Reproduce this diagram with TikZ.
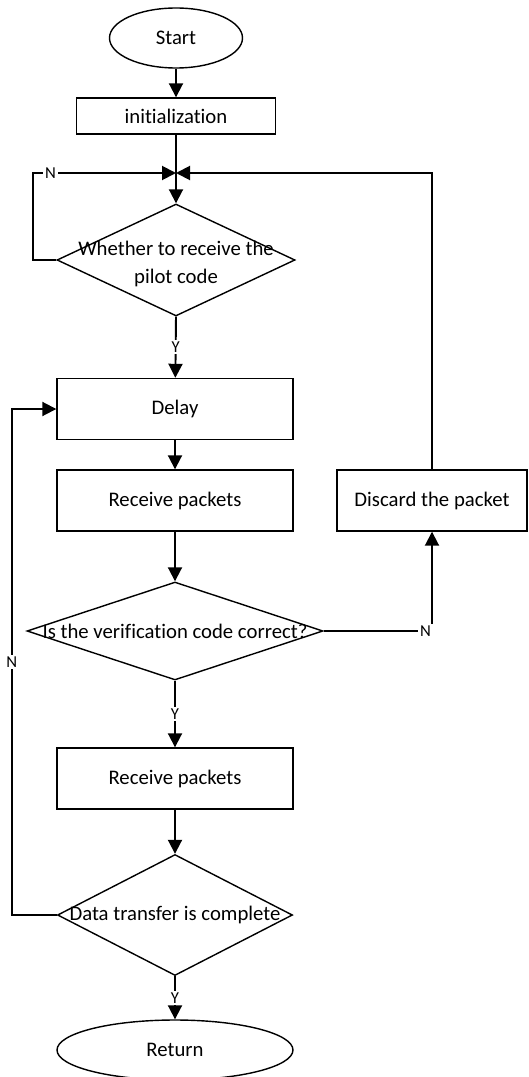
\documentclass[tikz,border=0pt]{standalone}
\usepackage{fontspec}
\setmainfont{Carlito}[Ligatures=CommonOff]
\usepackage{tikz}
\usetikzlibrary{positioning, shapes.geometric, calc, arrows.meta}
\definecolor{fcLine}{RGB}{0, 0, 0}
\tikzset{
    base/.style={
        font=\fontsize{11.8}{15.4}\selectfont,
        align=center,
        text=fcLine
    },
    terminal/.style={
        base,
        ellipse,
        draw=fcLine,
        line width=0.8pt,
        fill=white,
        inner sep=0pt
    },
    process/.style={
        base,
        rectangle,
        draw=fcLine,
        line width=0.8pt,
        fill=white,
        minimum width=4.72cm,
        minimum height=1.22cm
    },
    decision/.style={
        base,
        diamond,
        draw=fcLine,
        line width=0.8pt,
        fill=white,
        inner sep=0pt
    },
    flow/.style={
        -{Triangle[length=0.28cm, width=0.28cm]},
        line width=1.1pt,
        color=fcLine
    },
    wire/.style={
        line width=1.1pt,
        color=fcLine
    },
    branch/.style={
        font=\fontsize{9.5}{11}\selectfont,
        text=fcLine,
        fill=white,
        inner sep=1pt
    }
}

\begin{document}
\begin{tikzpicture}
  \useasboundingbox (0,0) rectangle (10.56,-21.54);

  % Main column
  \node[terminal, minimum width=2.66cm, minimum height=1.2cm] (start) at (3.52,-0.76) {Start};
  \node[process, minimum width=3.98cm, minimum height=0.72cm] (init) at (3.52,-2.32) {initialization};
  \coordinate (join) at (3.52,-3.46);
  \node[decision, minimum width=4.76cm, minimum height=2.24cm,
        label={[base, yshift=-0.08cm]center:{Whether to receive the\\pilot code}}] (pilot) at (3.52,-5.2) {};
  \node[process] (delay) at (3.5,-8.18) {Delay};
  \node[process] (recv) at (3.5,-10.01) {Receive packets};
  \node[decision, minimum width=5.92cm, minimum height=1.96cm,
        label={[base]center:{Is the verification code correct?}}] (check) at (3.5,-12.62) {};
  \node[process] (recvb) at (3.5,-15.57) {Receive packets};
  \node[decision, minimum width=4.7cm, minimum height=2.42cm,
        label={[base]center:{Data transfer is complete}}] (done) at (3.5,-18.3) {};
  \node[terminal, minimum width=4.72cm, minimum height=1.2cm] (ret) at (3.5,-21.0) {Return};

  % Side box
  \node[process, minimum width=3.8cm] (discard) at (8.64,-10.01) {Discard the packet};

  % Straight flow
  \draw[flow] (start) -- (init);
  \draw[wire] (init) -- (join);
  \draw[flow] (join) -- (pilot.north);
  \draw[flow] (pilot.south) -- node[branch] {Y} (delay);
  \draw[flow] (delay) -- (recv);
  \draw[flow] (recv) -- (check.north);
  \draw[flow] (check.south) -- node[branch] {Y} (recvb);
  \draw[flow] (recvb) -- (done.north);
  \draw[flow] (done.south) -- node[branch] {Y} (ret);

  % Loops back
  \draw[flow] (pilot.west) -- ++(-0.46,0) |- node[branch, pos=0.56] {N} (join);
  \draw[flow] (check.east) -| node[branch, pos=0.47] {N} (discard.south);
  \draw[flow] (discard.north) |- (join);
  \draw[flow] (done.west) -- ++(-0.9,0) |- node[branch, pos=0.25] {N} (delay.west);
\end{tikzpicture}
\end{document}
